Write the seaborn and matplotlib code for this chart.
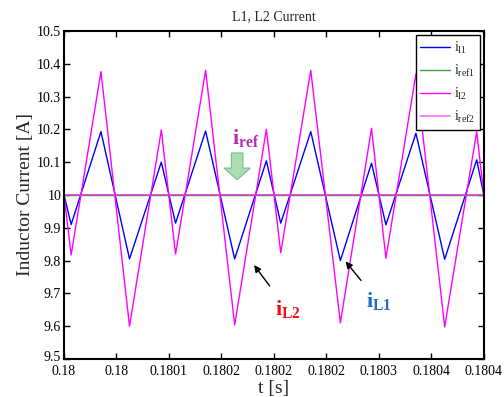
import numpy as np
import pandas as pd
import seaborn as sns
import matplotlib
matplotlib.use("Agg")
import matplotlib.pyplot as plt
from matplotlib.patches import FancyArrow
import matplotlib.transforms as mtransforms

# ---- data ----
t_vertices = [0.1800000, 0.1800068, 0.1800352, 0.1800624, 0.1800927, 0.1801063,
              0.1801349, 0.1801626, 0.1801928, 0.1802065, 0.1802351, 0.1802633,
              0.1802930, 0.1803067, 0.1803353, 0.1803627, 0.1803932, 0.1804000]
i_l1 = [10.000, 9.910, 10.193, 9.805, 10.100, 9.914, 10.195, 9.805, 10.104,
        9.914, 10.193, 9.800, 10.097, 9.909, 10.188, 9.804, 10.107, 10.000]
i_l2 = [10.000, 9.817, 10.376, 9.600, 10.198, 9.820, 10.380, 9.604, 10.200,
        9.824, 10.380, 9.610, 10.203, 9.807, 10.369, 9.598, 10.193, 10.000]
t_ref = [0.1800, 0.1804]
i_ref1 = [10.0, 10.0]
i_ref2 = [10.0, 10.0]

x_ticks = [0.18, 0.18005, 0.1801, 0.18015, 0.1802, 0.18025, 0.1803, 0.18035, 0.1804]
x_ticklabels = ["0.18", "0.18", "0.1801", "0.1802", "0.1802", "0.1802", "0.1803", "0.1804", "0.1804"]
y_ticks = [9.5, 9.6, 9.7, 9.8, 9.9, 10.0, 10.1, 10.2, 10.3, 10.4, 10.5]
y_ticklabels = ["9.5", "9.6", "9.7", "9.8", "9.9", "10", "10.1", "10.2", "10.3", "10.4", "10.5"]

sns.set_style("ticks")
plt.rcParams["font.family"] = ["Liberation Serif", "DejaVu Serif"]
plt.rcParams["mathtext.fontset"] = "custom"
plt.rcParams["mathtext.rm"] = "Liberation Serif"
plt.rcParams["mathtext.it"] = "Liberation Serif:italic"
plt.rcParams["mathtext.bf"] = "Liberation Serif:bold"

fig = plt.figure(figsize=(5.04, 3.97), dpi=100)
ax = fig.add_axes([0.127, 0.0957, 0.833, 0.8265])

df1 = pd.DataFrame({"t": t_vertices, "i": i_l1})
df2 = pd.DataFrame({"t": t_vertices, "i": i_l2})
dr1 = pd.DataFrame({"t": t_ref, "i": i_ref1})
dr2 = pd.DataFrame({"t": t_ref, "i": i_ref2})

sns.lineplot(data=df1, x="t", y="i", ax=ax, color="#0000ff", lw=1.0, label=r"$\mathrm{i_{l1}}$", sort=False)
sns.lineplot(data=dr1, x="t", y="i", ax=ax, color="#3c9e3c", lw=1.0, label=r"$\mathrm{i_{ref1}}$", sort=False)
sns.lineplot(data=df2, x="t", y="i", ax=ax, color="#ff00ff", lw=1.0, label=r"$\mathrm{i_{l2}}$", sort=False)
sns.lineplot(data=dr2, x="t", y="i", ax=ax, color="#d040d0", lw=1.2, label=r"$\mathrm{i_{ref2}}$", sort=False)

leg = ax.legend(loc="upper right", frameon=True, fancybox=False, fontsize=10,
                edgecolor="black", framealpha=1.0, handlelength=2.1, labelspacing=0.5,
                borderpad=0.35, handletextpad=0.3, borderaxespad=0.3)
leg.get_frame().set_linewidth(1.0)
leg.get_lines()[3].set_color("#ff70ff")
leg.set_zorder(10)

ax.set_xlim(0.18, 0.1804)
ax.set_ylim(9.5, 10.5)
ax.set_xticks(x_ticks)
ax.set_xticklabels(x_ticklabels)
ax.set_yticks(y_ticks)
ax.set_yticklabels(y_ticklabels)
ax.tick_params(direction="in", length=4, width=1, top=True, right=True, labelsize=10, colors="black", pad=2)
ax.tick_params(axis="x", pad=4)
# lift the lowest y tick label a little, as in the reference
lbl0 = ax.get_yticklabels()[0]
lbl0.set_transform(lbl0.get_transform() + mtransforms.ScaledTranslation(0, 3 / 100, fig.dpi_scale_trans))
for s in ax.spines.values():
    s.set_visible(True)
    s.set_linewidth(1.5)
    s.set_color("black")

ax.set_title("L1, L2 Current", fontsize=10, pad=8)
ax.set_xlabel("t [s]", fontsize=14, labelpad=2)
ax.set_ylabel("Inductor Current [A]", fontsize=14, labelpad=2)

# annotations
ax.text(0.180173, 10.175, r"$\mathbf{i_{ref}}$", color="#b030b0", fontsize=16, ha="center", va="center")
arr = FancyArrow(0.180165, 10.128, 0, -0.082, width=1.1e-5, head_width=2.5e-5,
                 head_length=0.036, length_includes_head=True,
                 facecolor="#a8deb2", edgecolor="#78c088", lw=0.8, zorder=5)
ax.add_patch(arr)

ax.text(0.1802135, 9.652, r"$\mathbf{i_{L2}}$", color="#ee1111", fontsize=16, ha="center", va="center")
ax.annotate("", xy=(0.1801795, 9.793), xytext=(0.1801975, 9.716),
            arrowprops=dict(arrowstyle="-|>", color="black", lw=1.0, mutation_scale=10))
ax.text(0.180300, 9.676, r"$\mathbf{i_{L1}}$", color="#1a70c4", fontsize=16, ha="center", va="center")
ax.annotate("", xy=(0.1802666, 9.804), xytext=(0.1802846, 9.733),
            arrowprops=dict(arrowstyle="-|>", color="black", lw=1.0, mutation_scale=10))

fig.savefig("out.png", dpi=100)
